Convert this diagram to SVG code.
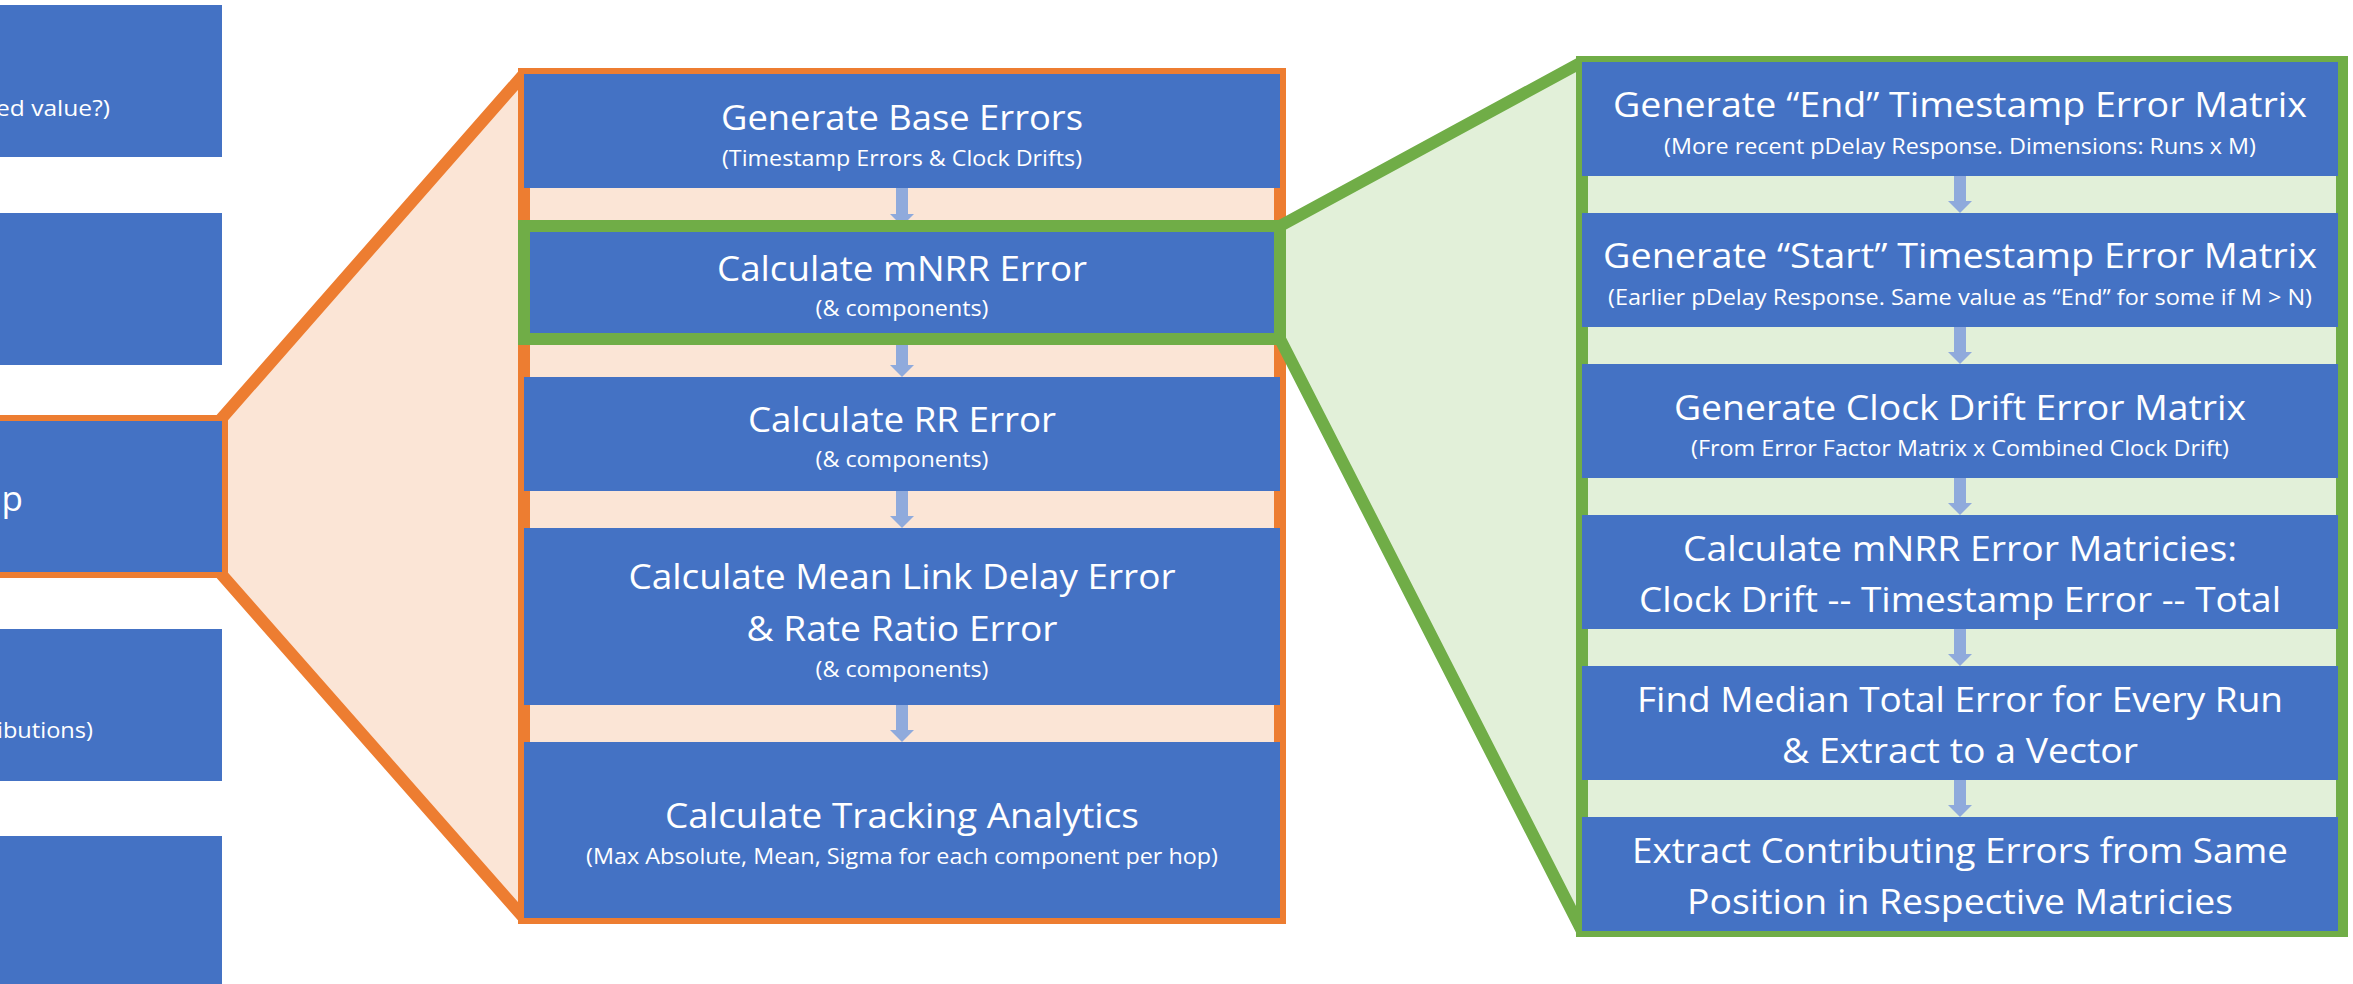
<svg xmlns="http://www.w3.org/2000/svg" width="2353" height="984" viewBox="0 0 2353 984">
<style>
.box{fill:#4472C4}
.t{font-family:"Open Sans","Liberation Sans",sans-serif;font-size:35px;fill:#FFFFFF;text-anchor:middle}
.s{font-family:"Open Sans","Liberation Sans",sans-serif;font-size:22px;fill:#FFFFFF;text-anchor:middle}
.e{text-anchor:end}
.otrap{fill:#FBE5D6;stroke:#ED7D31;stroke-width:12;stroke-linejoin:miter;stroke-miterlimit:1.5}
.gtrap{fill:#E2F0D9;stroke:#70AD47;stroke-width:12;stroke-linejoin:miter;stroke-miterlimit:1.5}
.oframe{fill:#FBE5D6;stroke:#ED7D31;stroke-width:12}
.gframe{fill:#E2F0D9;stroke:#70AD47;stroke-width:12}
.ghl{fill:none;stroke:#70AD47;stroke-width:12}
.arr{stroke:#8FAADC;stroke-width:12;fill:none;marker-end:url(#head)}
</style>
<defs>
<marker id="head" viewBox="0 0 12 24" markerWidth="12" markerHeight="24" refX="0" refY="12" markerUnits="userSpaceOnUse" orient="auto">
<path d="M0,0 L12,12 L0,24 Z" fill="#8FAADC"/>
</marker>
</defs>
<rect width="2353" height="984" fill="#FFFFFF"/>

<!-- left column (cut off at slide edge) -->
<g id="left-1"><rect class="box" x="-20" y="5" width="242" height="152"/><text class="s e" x="110" y="116" textLength="114" lengthAdjust="spacingAndGlyphs">ed value?)</text></g>
<g id="left-2"><rect class="box" x="-20" y="213" width="242" height="152"/></g>
<g id="left-4"><rect class="box" x="-20" y="629" width="242" height="152"/><text class="s e" x="93" y="738" textLength="96" lengthAdjust="spacingAndGlyphs">ibutions)</text></g>
<g id="left-5"><rect class="box" x="-20" y="836" width="242" height="160"/></g>

<!-- orange zoom callout -->
<polygon class="otrap" points="222,418 524,74 524,918 222,575"/>
<g id="left-3"><rect class="box" x="-20" y="418" width="245" height="157" stroke="#ED7D31" stroke-width="6"/><text class="t e" x="23" y="511">p</text></g>
<rect class="oframe" x="524" y="74" width="756" height="844"/>

<!-- green zoom callout -->
<polygon class="gtrap" points="1280,226 1582,62 1582,931 1280,339"/>
<rect class="gframe" x="1582" y="62" width="760" height="869"/>

<g id="connectors">
<line class="arr" x1="902" y1="188" x2="902" y2="214"/>
<line class="arr" x1="902" y1="339" x2="902" y2="365"/>
<line class="arr" x1="902" y1="491" x2="902" y2="516"/>
<line class="arr" x1="902" y1="705" x2="902" y2="730"/>
<line class="arr" x1="1960" y1="176" x2="1960" y2="201"/>
<line class="arr" x1="1960" y1="327" x2="1960" y2="352"/>
<line class="arr" x1="1960" y1="478" x2="1960" y2="503"/>
<line class="arr" x1="1960" y1="629" x2="1960" y2="654"/>
<line class="arr" x1="1960" y1="780" x2="1960" y2="805"/>
</g>

<!-- middle column -->
<g id="base-errors"><rect class="box" x="524" y="74" width="756" height="114"/>
<text class="t" x="902" y="130" textLength="362" lengthAdjust="spacingAndGlyphs">Generate Base Errors</text>
<text class="s" x="902" y="166" textLength="360" lengthAdjust="spacingAndGlyphs">(Timestamp Errors &amp; Clock Drifts)</text></g>
<g id="mnrr-error"><rect class="box" x="524" y="226" width="756" height="113"/><rect class="ghl" x="524" y="226" width="756" height="113"/>
<text class="t" x="902" y="281" textLength="370" lengthAdjust="spacingAndGlyphs">Calculate mNRR Error</text>
<text class="s" x="902" y="316" textLength="173" lengthAdjust="spacingAndGlyphs">(&amp; components)</text></g>
<g id="rr-error"><rect class="box" x="524" y="377" width="756" height="114"/>
<text class="t" x="902" y="432" textLength="308" lengthAdjust="spacingAndGlyphs">Calculate RR Error</text>
<text class="s" x="902" y="467" textLength="173" lengthAdjust="spacingAndGlyphs">(&amp; components)</text></g>
<g id="mld-error"><rect class="box" x="524" y="528" width="756" height="177"/>
<text class="t" x="902" y="589" textLength="547" lengthAdjust="spacingAndGlyphs">Calculate Mean Link Delay Error</text>
<text class="t" x="902" y="641" textLength="311" lengthAdjust="spacingAndGlyphs">&amp; Rate Ratio Error</text>
<text class="s" x="902" y="677" textLength="173" lengthAdjust="spacingAndGlyphs">(&amp; components)</text></g>
<g id="tracking"><rect class="box" x="524" y="742" width="756" height="176"/>
<text class="t" x="902" y="828" textLength="474" lengthAdjust="spacingAndGlyphs">Calculate Tracking Analytics</text>
<text class="s" x="902" y="864" textLength="632" lengthAdjust="spacingAndGlyphs">(Max Absolute, Mean, Sigma for each component per hop)</text></g>

<!-- right column -->
<g id="end-matrix"><rect class="box" x="1582" y="62" width="756" height="114"/>
<text class="t" x="1960" y="117" textLength="694" lengthAdjust="spacingAndGlyphs">Generate “End” Timestamp Error Matrix</text>
<text class="s" x="1960" y="154" textLength="592" lengthAdjust="spacingAndGlyphs">(More recent pDelay Response. Dimensions: Runs x M)</text></g>
<g id="start-matrix"><rect class="box" x="1582" y="213" width="756" height="114"/>
<text class="t" x="1960" y="268" textLength="714" lengthAdjust="spacingAndGlyphs">Generate “Start” Timestamp Error Matrix</text>
<text class="s" x="1960" y="305" textLength="704" lengthAdjust="spacingAndGlyphs">(Earlier pDelay Response. Same value as “End” for some if M &gt; N)</text></g>
<g id="drift-matrix"><rect class="box" x="1582" y="364" width="756" height="114"/>
<text class="t" x="1960" y="420" textLength="572" lengthAdjust="spacingAndGlyphs">Generate Clock Drift Error Matrix</text>
<text class="s" x="1960" y="456" textLength="538" lengthAdjust="spacingAndGlyphs">(From Error Factor Matrix x Combined Clock Drift)</text></g>
<g id="mnrr-matricies"><rect class="box" x="1582" y="515" width="756" height="114"/>
<text class="t" x="1960" y="561" textLength="554" lengthAdjust="spacingAndGlyphs">Calculate mNRR Error Matricies:</text>
<text class="t" x="1960" y="612" textLength="642" lengthAdjust="spacingAndGlyphs">Clock Drift -- Timestamp Error -- Total</text></g>
<g id="median"><rect class="box" x="1582" y="666" width="756" height="114"/>
<text class="t" x="1960" y="712" textLength="646" lengthAdjust="spacingAndGlyphs">Find Median Total Error for Every Run</text>
<text class="t" x="1960" y="763" textLength="356" lengthAdjust="spacingAndGlyphs">&amp; Extract to a Vector</text></g>
<g id="contributing"><rect class="box" x="1582" y="817" width="756" height="114"/>
<text class="t" x="1960" y="863" textLength="656" lengthAdjust="spacingAndGlyphs">Extract Contributing Errors from Same</text>
<text class="t" x="1960" y="914" textLength="546" lengthAdjust="spacingAndGlyphs">Position in Respective Matricies</text></g>
</svg>
